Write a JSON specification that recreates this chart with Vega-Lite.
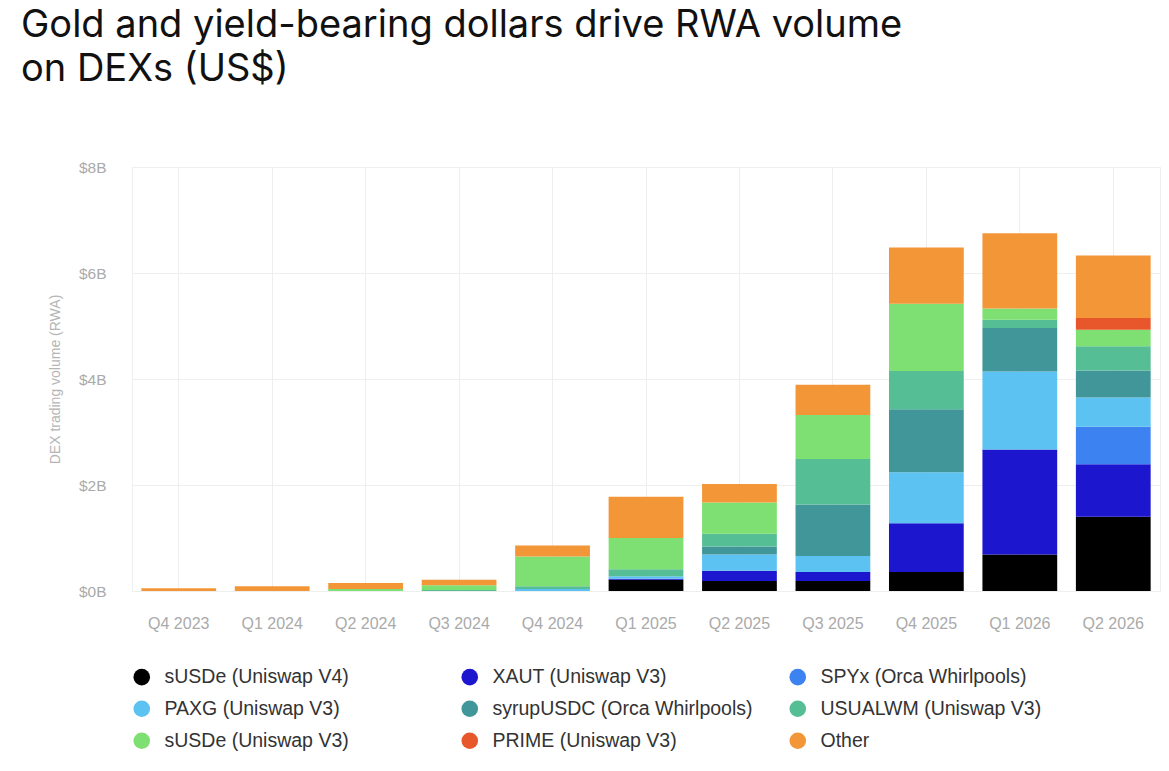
{
  "$schema": "https://vega.github.io/schema/vega-lite/v6.json",
  "description": "Gold and yield-bearing dollars drive RWA volume on DEXs",
  "width": 1028,
  "height": 424,
  "autosize": {"type": "none"},
  "padding": {"left": 132, "top": 167, "right": 9, "bottom": 180},
  "background": "white",
  "title": {
    "text": ["Gold and yield-bearing dollars drive RWA volume", "on DEXs (US$)"],
    "anchor": "start",
    "frame": "group",
    "font": "Inter",
    "fontSize": 38,
    "fontWeight": "normal",
    "color": "#111111",
    "lineHeight": 44,
    "dx": -111,
    "offset": 71
  },
  "data": {
    "values": [
      {"quarter": "Q4 2023", "series": "Other", "volume": 0.05},
      {"quarter": "Q1 2024", "series": "Other", "volume": 0.09},
      {"quarter": "Q2 2024", "series": "sUSDe (Uniswap V3)", "volume": 0.04},
      {"quarter": "Q2 2024", "series": "Other", "volume": 0.11},
      {"quarter": "Q3 2024", "series": "USUALWM (Uniswap V3)", "volume": 0.02},
      {"quarter": "Q3 2024", "series": "sUSDe (Uniswap V3)", "volume": 0.09},
      {"quarter": "Q3 2024", "series": "Other", "volume": 0.10},
      {"quarter": "Q4 2024", "series": "PAXG (Uniswap V3)", "volume": 0.04},
      {"quarter": "Q4 2024", "series": "USUALWM (Uniswap V3)", "volume": 0.05},
      {"quarter": "Q4 2024", "series": "sUSDe (Uniswap V3)", "volume": 0.56},
      {"quarter": "Q4 2024", "series": "Other", "volume": 0.21},
      {"quarter": "Q1 2025", "series": "sUSDe (Uniswap V4)", "volume": 0.21},
      {"quarter": "Q1 2025", "series": "XAUT (Uniswap V3)", "volume": 0.02},
      {"quarter": "Q1 2025", "series": "PAXG (Uniswap V3)", "volume": 0.05},
      {"quarter": "Q1 2025", "series": "USUALWM (Uniswap V3)", "volume": 0.13},
      {"quarter": "Q1 2025", "series": "sUSDe (Uniswap V3)", "volume": 0.59},
      {"quarter": "Q1 2025", "series": "Other", "volume": 0.78},
      {"quarter": "Q2 2025", "series": "sUSDe (Uniswap V4)", "volume": 0.19},
      {"quarter": "Q2 2025", "series": "XAUT (Uniswap V3)", "volume": 0.19},
      {"quarter": "Q2 2025", "series": "PAXG (Uniswap V3)", "volume": 0.31},
      {"quarter": "Q2 2025", "series": "syrupUSDC (Orca Whirlpools)", "volume": 0.15},
      {"quarter": "Q2 2025", "series": "USUALWM (Uniswap V3)", "volume": 0.24},
      {"quarter": "Q2 2025", "series": "sUSDe (Uniswap V3)", "volume": 0.59},
      {"quarter": "Q2 2025", "series": "Other", "volume": 0.35},
      {"quarter": "Q3 2025", "series": "sUSDe (Uniswap V4)", "volume": 0.19},
      {"quarter": "Q3 2025", "series": "XAUT (Uniswap V3)", "volume": 0.17},
      {"quarter": "Q3 2025", "series": "PAXG (Uniswap V3)", "volume": 0.30},
      {"quarter": "Q3 2025", "series": "syrupUSDC (Orca Whirlpools)", "volume": 0.97},
      {"quarter": "Q3 2025", "series": "USUALWM (Uniswap V3)", "volume": 0.86},
      {"quarter": "Q3 2025", "series": "sUSDe (Uniswap V3)", "volume": 0.83},
      {"quarter": "Q3 2025", "series": "Other", "volume": 0.57},
      {"quarter": "Q4 2025", "series": "sUSDe (Uniswap V4)", "volume": 0.36},
      {"quarter": "Q4 2025", "series": "XAUT (Uniswap V3)", "volume": 0.92},
      {"quarter": "Q4 2025", "series": "PAXG (Uniswap V3)", "volume": 0.96},
      {"quarter": "Q4 2025", "series": "syrupUSDC (Orca Whirlpools)", "volume": 1.19},
      {"quarter": "Q4 2025", "series": "USUALWM (Uniswap V3)", "volume": 0.72},
      {"quarter": "Q4 2025", "series": "sUSDe (Uniswap V3)", "volume": 1.27},
      {"quarter": "Q4 2025", "series": "Other", "volume": 1.06},
      {"quarter": "Q1 2026", "series": "sUSDe (Uniswap V4)", "volume": 0.69},
      {"quarter": "Q1 2026", "series": "XAUT (Uniswap V3)", "volume": 1.98},
      {"quarter": "Q1 2026", "series": "PAXG (Uniswap V3)", "volume": 1.47},
      {"quarter": "Q1 2026", "series": "syrupUSDC (Orca Whirlpools)", "volume": 0.82},
      {"quarter": "Q1 2026", "series": "USUALWM (Uniswap V3)", "volume": 0.16},
      {"quarter": "Q1 2026", "series": "sUSDe (Uniswap V3)", "volume": 0.21},
      {"quarter": "Q1 2026", "series": "Other", "volume": 1.42},
      {"quarter": "Q2 2026", "series": "sUSDe (Uniswap V4)", "volume": 1.40},
      {"quarter": "Q2 2026", "series": "XAUT (Uniswap V3)", "volume": 0.99},
      {"quarter": "Q2 2026", "series": "SPYx (Orca Whirlpools)", "volume": 0.71},
      {"quarter": "Q2 2026", "series": "PAXG (Uniswap V3)", "volume": 0.55},
      {"quarter": "Q2 2026", "series": "syrupUSDC (Orca Whirlpools)", "volume": 0.51},
      {"quarter": "Q2 2026", "series": "USUALWM (Uniswap V3)", "volume": 0.46},
      {"quarter": "Q2 2026", "series": "sUSDe (Uniswap V3)", "volume": 0.31},
      {"quarter": "Q2 2026", "series": "PRIME (Uniswap V3)", "volume": 0.22},
      {"quarter": "Q2 2026", "series": "Other", "volume": 1.18}
    ]
  },
  "transform": [
    {
      "calculate": "indexof(['sUSDe (Uniswap V4)', 'XAUT (Uniswap V3)', 'SPYx (Orca Whirlpools)', 'PAXG (Uniswap V3)', 'syrupUSDC (Orca Whirlpools)', 'USUALWM (Uniswap V3)', 'sUSDe (Uniswap V3)', 'PRIME (Uniswap V3)', 'Other'], datum.series)",
      "as": "stack_rank"
    }
  ],
  "mark": {"type": "bar"},
  "encoding": {
    "x": {
      "field": "quarter",
      "type": "nominal",
      "sort": ["Q4 2023", "Q1 2024", "Q2 2024", "Q3 2024", "Q4 2024", "Q1 2025", "Q2 2025", "Q3 2025", "Q4 2025", "Q1 2026", "Q2 2026"],
      "scale": {"paddingInner": 0.2, "paddingOuter": 0.1},
      "axis": {
        "title": null,
        "labelAngle": 0,
        "labelFont": "Liberation Sans",
        "labelFontSize": 16,
        "labelColor": "#aaaaaa",
        "labelPadding": 24,
        "ticks": false,
        "domain": false,
        "grid": true,
        "gridColor": "#eeeeee",
        "bandPosition": 0.5
      }
    },
    "y": {
      "field": "volume",
      "type": "quantitative",
      "stack": "zero",
      "scale": {"domain": [0, 8]},
      "axis": {
        "title": "DEX trading volume (RWA)",
        "values": [0, 2, 4, 6, 8],
        "labelExpr": "'$' + datum.value + 'B'",
        "labelFont": "Liberation Sans",
        "labelFontSize": 15.5,
        "labelColor": "#aaaaaa",
        "labelPadding": 26,
        "ticks": false,
        "domain": false,
        "gridColor": "#eeeeee",
        "titleFont": "Liberation Sans",
        "titleFontSize": 14,
        "titleColor": "#b5b5b5",
        "titleFontWeight": "normal",
        "titlePadding": 16
      }
    },
    "order": {"field": "stack_rank", "type": "quantitative", "sort": "ascending"},
    "color": {
      "field": "series",
      "type": "nominal",
      "sort": ["sUSDe (Uniswap V4)", "XAUT (Uniswap V3)", "SPYx (Orca Whirlpools)", "PAXG (Uniswap V3)", "syrupUSDC (Orca Whirlpools)", "USUALWM (Uniswap V3)", "sUSDe (Uniswap V3)", "PRIME (Uniswap V3)", "Other"],
      "scale": {
        "domain": ["sUSDe (Uniswap V4)", "XAUT (Uniswap V3)", "SPYx (Orca Whirlpools)", "PAXG (Uniswap V3)", "syrupUSDC (Orca Whirlpools)", "USUALWM (Uniswap V3)", "sUSDe (Uniswap V3)", "PRIME (Uniswap V3)", "Other"],
        "range": ["#000000", "#1c16cf", "#3c82f0", "#5bc2f2", "#41969a", "#56be94", "#7ee072", "#e8562b", "#f29637"]
      },
      "legend": {
        "title": null,
        "orient": "none",
        "legendX": 0,
        "legendY": 500,
        "direction": "horizontal",
        "columns": 3,
        "gridAlign": "all",
        "columnPadding": 35,
        "rowPadding": 11,
        "symbolType": "circle",
        "symbolSize": 275,
        "symbolStrokeWidth": 0,
        "labelFont": "Liberation Sans",
        "labelFontSize": 19.5,
        "labelColor": "#333333",
        "labelOffset": 13,
        "labelLimit": 400
      }
    }
  },
  "config": {
    "view": {"stroke": "#eeeeee"},
    "font": "Liberation Sans"
  }
}
